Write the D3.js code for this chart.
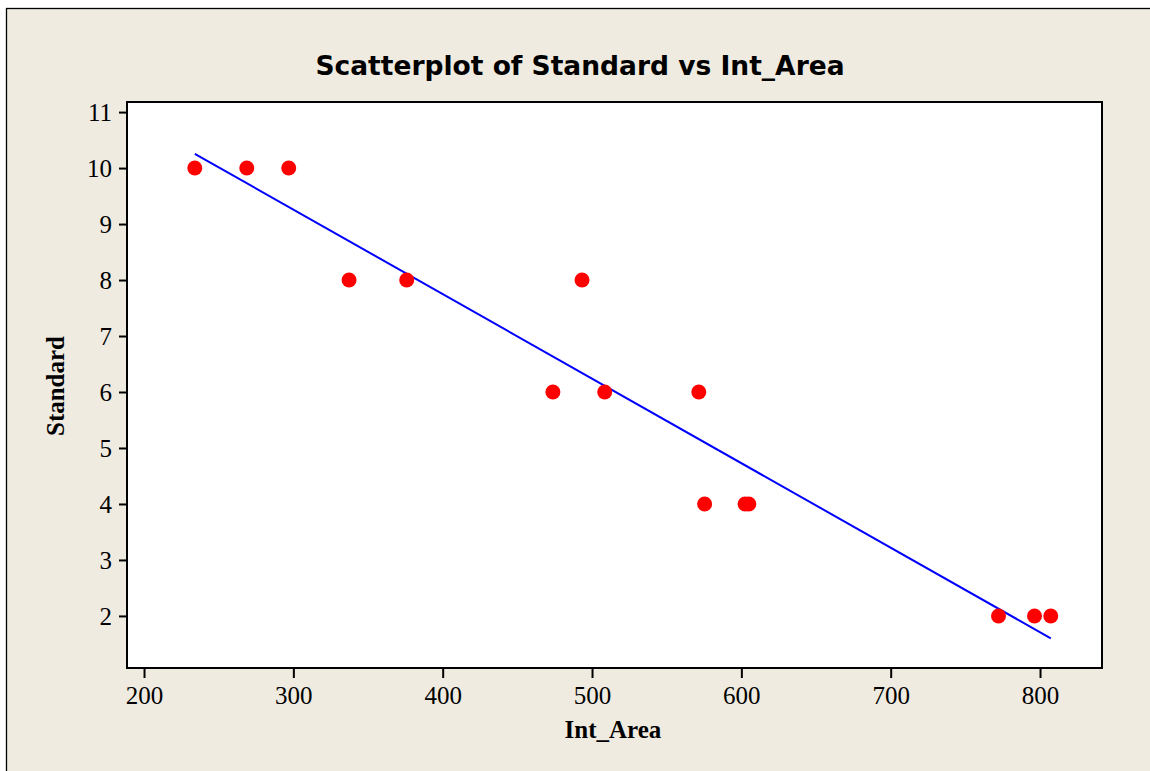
<!DOCTYPE html>
<html>
<head>
<meta charset="utf-8">
<script src="https://cdn.jsdelivr.net/npm/d3@7"></script>
<style>
html,body{margin:0;padding:0;background:#fff;}
svg{display:block;}
</style>
</head>
<body>
<script>
// Data
const intArea = [234, 268.8, 296.9, 337.3, 375.9, 473.8, 493.3, 508.5, 571.5, 575.4, 602.5, 605, 772.2, 796.3, 807.2];
const standard = [10, 10, 10, 8, 8, 6, 8, 6, 6, 4, 4, 4, 2, 2, 2];
const fitX = [234, 807.2];
const fitY = [10.255, 1.60];
const xTicks = [200, 300, 400, 500, 600, 700, 800];
const yTicks = [2, 3, 4, 5, 6, 7, 8, 9, 10, 11];
const titleText = "Scatterplot of Standard vs Int_Area";
const xLabel = "Int_Area";
const yLabel = "Standard";

const W = 1150, H = 771;
const plot = {left: 127, top: 102, right: 1102, bottom: 668};

const svg = d3.select("body").append("svg").attr("width", W).attr("height", H);

// outer beige panel
svg.append("rect").attr("x", 6.5).attr("y", 8.5).attr("width", W + 10).attr("height", H + 10)
  .attr("fill", "#EFEBE1").attr("stroke", "#000").attr("stroke-width", 1.3);

const x = d3.scaleLinear().domain([188.6, 841.5]).range([plot.left, plot.right]);
const y = d3.scaleLinear().domain([1.07, 11.18]).range([plot.bottom, plot.top]);

// plot area
svg.append("rect").attr("x", plot.left).attr("y", plot.top)
  .attr("width", plot.right - plot.left).attr("height", plot.bottom - plot.top)
  .attr("fill", "#fff");

const serif = "'Liberation Serif','Times New Roman',serif";

const xAxis = svg.append("g").attr("transform", `translate(0,${plot.bottom})`)
  .call(d3.axisBottom(x).tickValues(xTicks).tickSize(10).tickSizeOuter(0).tickPadding(0));
const yAxis = svg.append("g").attr("transform", `translate(${plot.left},0)`)
  .call(d3.axisLeft(y).tickValues(yTicks).tickSize(8).tickSizeOuter(0).tickPadding(7));
[xAxis, yAxis].forEach(g => {
  g.select(".domain").remove();
  g.selectAll(".tick line").attr("stroke", "#000").attr("stroke-width", 2);
  g.selectAll(".tick text").attr("fill", "#000").style("font-family", serif).style("font-size", "25px");
});
xAxis.selectAll(".tick text").attr("dy", null).attr("y", 36);
yAxis.selectAll(".tick text").attr("dy", "0.34em");

// frame
svg.append("rect").attr("x", plot.left).attr("y", plot.top)
  .attr("width", plot.right - plot.left).attr("height", plot.bottom - plot.top)
  .attr("fill", "none").attr("stroke", "#000").attr("stroke-width", 2);

// regression line
svg.append("line")
  .attr("x1", x(fitX[0])).attr("y1", y(fitY[0]))
  .attr("x2", x(fitX[1])).attr("y2", y(fitY[1]))
  .attr("stroke", "#0000FF").attr("stroke-width", 2);

// points
svg.append("g").selectAll("circle").data(intArea.map((v, i) => [v, standard[i]]))
  .join("circle")
  .attr("cx", d => x(d[0])).attr("cy", d => y(d[1])).attr("r", 7.5)
  .attr("fill", "#FF0000");

// title
svg.append("text").attr("x", 580).attr("y", 75).attr("text-anchor", "middle")
  .style("font-family", "'DejaVu Sans',Verdana,sans-serif").style("font-weight", "bold")
  .style("font-size", "26.5px").attr("fill", "#000").text(titleText);

svg.append("text").attr("x", 613).attr("y", 738).attr("text-anchor", "middle")
  .style("font-family", serif).style("font-weight", "bold").style("font-size", "25px")
  .attr("fill", "#000").text(xLabel);

svg.append("text").attr("transform", `translate(64,386) rotate(-90)`)
  .attr("text-anchor", "middle")
  .style("font-family", serif).style("font-weight", "bold").style("font-size", "25px")
  .attr("fill", "#000").text(yLabel);
</script>
</body>
</html>
